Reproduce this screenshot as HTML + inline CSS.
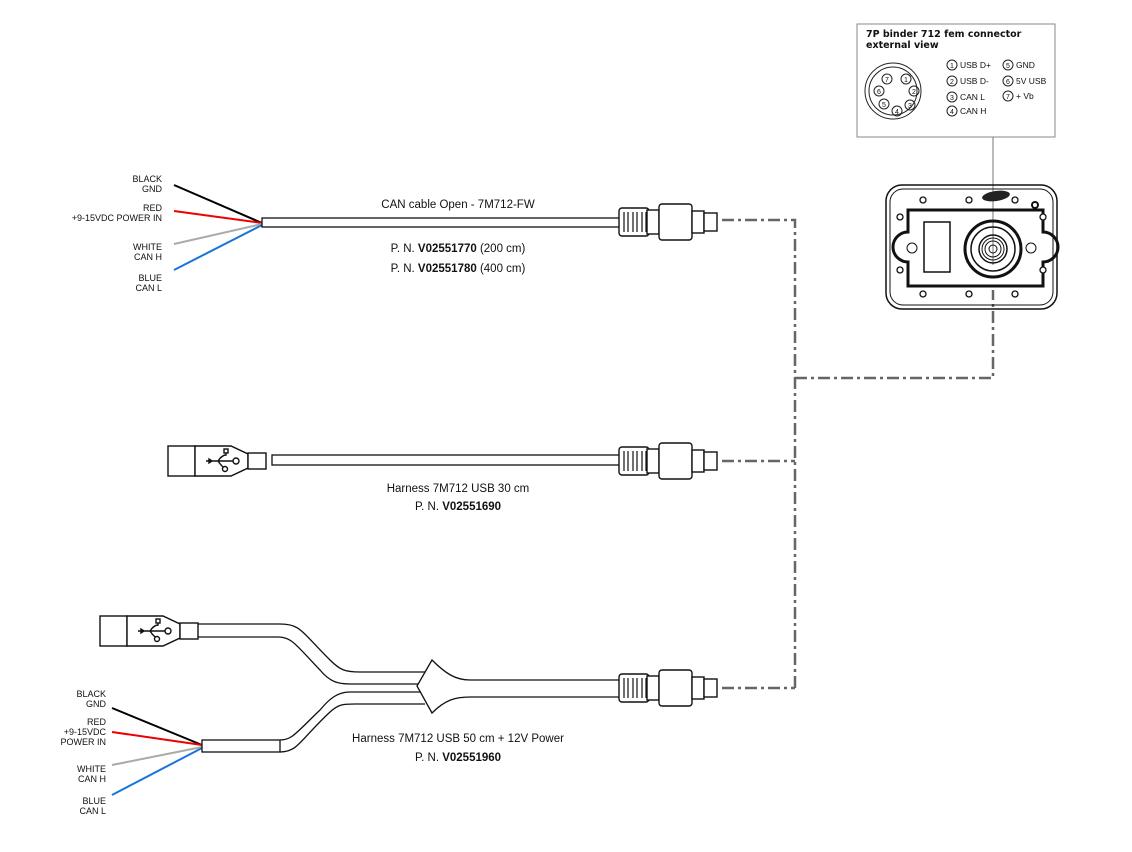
<!DOCTYPE html><html><head><style>body{margin:0;background:#fff}svg{display:block}text{font-family:"Liberation Sans",sans-serif;fill:#111}</style></head><body>
<svg width="1132" height="852" viewBox="0 0 1132 852" xmlns="http://www.w3.org/2000/svg">
<defs>
<g id="conn" fill="#fff" stroke="#111" stroke-width="1.4">
<rect x="0" y="-14" width="30" height="28" rx="3"/>
<path d="M5,-10v20M9,-10v20M14,-10v20M18,-10v20M23,-10v20M27,-10v20" stroke-width="1.2"/>
<rect x="28" y="-12" width="12" height="24"/>
<rect x="40" y="-18" width="33" height="36" rx="3"/>
<rect x="73" y="-11" width="12" height="22"/>
<rect x="85" y="-9" width="13" height="18"/>
</g>
<g id="usb" fill="#fff" stroke="#111" stroke-width="1.4">
<rect x="0" y="-15" width="27" height="30"/>
<path d="M27,-15h36l17,8v14l-17,8h-36z"/>
<rect x="80" y="-8" width="18" height="16"/>
<path d="M38,0h28M44,0l-3,-2v4zM50,0q4,-6 8,-6v-4M50,0q4,6 8,8" fill="none"/>
<rect x="56" y="-12" width="4" height="4"/><circle cx="57" cy="8" r="2.5"/><circle cx="68" cy="0" r="3"/>
</g>
</defs>
<g fill="none" stroke="#666" stroke-width="2.5" stroke-dasharray="12,4,3,4">
<path d="M722,220H795V688M722,461H795M722,688H795M795,378H993V290"/>
</g>
<line x1="993" y1="137" x2="993" y2="265" stroke="#777" stroke-width="1"/>
<!-- info box -->
<rect x="857" y="24" width="198" height="113" fill="#fff" stroke="#888" stroke-width="1"/>
<text x="866" y="37" font-size="9.5" font-weight="bold" style="font-family:'DejaVu Sans',sans-serif" fill="#333">7P binder 712 fem connector</text>
<text x="866" y="48" font-size="9.5" font-weight="bold" style="font-family:'DejaVu Sans',sans-serif" fill="#333">external view</text>
<g fill="none" stroke="#222" stroke-width="1">
<circle cx="893" cy="91" r="28"/><circle cx="893" cy="91" r="24"/>
<circle cx="906" cy="79" r="5"/><circle cx="914" cy="91" r="5"/><circle cx="910" cy="105" r="5"/><circle cx="897" cy="111" r="5"/><circle cx="884" cy="104" r="5"/><circle cx="879" cy="91" r="5"/><circle cx="887" cy="79" r="5"/>
<circle cx="952" cy="65" r="5"/><circle cx="952" cy="81" r="5"/><circle cx="952" cy="97" r="5"/><circle cx="952" cy="111" r="5"/>
<circle cx="1008" cy="65" r="5"/><circle cx="1008" cy="81" r="5"/><circle cx="1008" cy="96" r="5"/>
</g>
<g font-size="7" text-anchor="middle"><text x="906" y="82">1</text><text x="914" y="94">2</text><text x="910" y="108">3</text><text x="897" y="114">4</text><text x="884" y="107">5</text><text x="879" y="94">6</text><text x="887" y="82">7</text>
<text x="952" y="68">1</text><text x="952" y="84">2</text><text x="952" y="100">3</text><text x="952" y="114">4</text><text x="1008" y="68">5</text><text x="1008" y="84">6</text><text x="1008" y="99">7</text></g>
<g font-size="8.5"><text x="960" y="68">USB D+</text><text x="960" y="84">USB D-</text><text x="960" y="100">CAN L</text><text x="960" y="114">CAN H</text><text x="1016" y="68">GND</text><text x="1016" y="84">5V USB</text><text x="1016" y="99">+ Vb</text></g>
<!-- device -->
<g stroke="#111" fill="none">
<rect x="886" y="185" width="171" height="124" rx="16" stroke-width="1.5"/>
<rect x="890" y="189" width="163" height="116" rx="13" stroke-width="1"/>
<path d="M908,210H1043V232a14,14 0 0 1 0,30V286H908V262a14,14 0 0 1 0,-30Z" stroke-width="3"/>
<rect x="924" y="222" width="26" height="50" stroke-width="1.5"/>
<circle cx="993" cy="249" r="28" stroke-width="3"/><circle cx="993" cy="249" r="22" stroke-width="1.5"/>
<circle cx="993" cy="249" r="14" stroke-width="1.5"/><circle cx="993" cy="249" r="11"/><circle cx="993" cy="249" r="8"/><circle cx="993" cy="249" r="4"/>
<circle cx="912" cy="248" r="5"/><circle cx="1031" cy="248" r="5"/>
<circle cx="1035" cy="205" r="3" stroke-width="2"/>
</g>
<g fill="#fff" stroke="#111" stroke-width="1.3"><circle cx="923" cy="200" r="3"/><circle cx="969" cy="200" r="3"/><circle cx="1015" cy="200" r="3"/><circle cx="900" cy="217" r="3"/><circle cx="1043" cy="217" r="3"/><circle cx="900" cy="270" r="3"/><circle cx="1043" cy="270" r="3"/><circle cx="923" cy="294" r="3"/><circle cx="969" cy="294" r="3"/><circle cx="1015" cy="294" r="3"/></g>
<ellipse cx="996" cy="196" rx="14" ry="5" fill="#222" transform="rotate(-8 996 196)"/>
<!-- top cable -->
<g stroke-width="2"><line x1="174" y1="185" x2="262" y2="223" stroke="#000"/><line x1="174" y1="211" x2="262" y2="223" stroke="#e00"/><line x1="174" y1="244" x2="262" y2="224" stroke="#aaa"/><line x1="174" y1="270" x2="262" y2="225" stroke="#1a73d9"/></g>
<rect x="262" y="218" width="360" height="9" fill="#fff" stroke="#111" stroke-width="1.3"/>
<use href="#conn" x="619" y="222"/>
<g font-size="9" text-anchor="end"><text x="162" y="182">BLACK</text><text x="162" y="192">GND</text><text x="162" y="211">RED</text><text x="162" y="221">+9-15VDC POWER IN</text><text x="162" y="250">WHITE</text><text x="162" y="260">CAN H</text><text x="162" y="281">BLUE</text><text x="162" y="291">CAN L</text></g>
<g font-size="11.5" text-anchor="middle"><text x="458" y="208">CAN cable Open - 7M712-FW</text>
<text x="458" y="252">P. N. <tspan font-weight="bold">V02551770</tspan>  (200 cm)</text><text x="458" y="272">P. N. <tspan font-weight="bold">V02551780</tspan>  (400 cm)</text>
<text x="458" y="492">Harness 7M712 USB 30 cm</text><text x="458" y="510">P. N. <tspan font-weight="bold">V02551690</tspan></text>
<text x="458" y="742">Harness 7M712 USB 50 cm + 12V Power</text><text x="458" y="761">P. N. <tspan font-weight="bold">V02551960</tspan></text></g>
<!-- middle -->
<rect x="272" y="455" width="350" height="10" fill="#fff" stroke="#111" stroke-width="1.3"/>
<use href="#usb" x="168" y="461"/>
<use href="#conn" x="619" y="461"/>
<!-- bottom -->
<g fill="none" stroke="#111" stroke-width="1.3">
<path d="M188,624H280C300,624 300,630 330,660C340,670 345,672 360,672H425"/>
<path d="M188,637H278C292,637 296,645 320,670C330,682 338,684 350,684H420"/>
<path d="M280,740C292,740 296,733 320,710C330,698 338,692 350,692H420"/>
<path d="M280,752C298,752 300,740 330,712C340,703 345,704 360,704H425"/>
<path d="M432,660L417,686L432,713C445,700 455,697 470,697H622V680H470C455,680 445,673 432,660Z" fill="#fff"/>
</g>
<use href="#usb" x="100" y="631"/>
<g stroke-width="2"><line x1="112" y1="708" x2="202" y2="745" stroke="#000"/><line x1="112" y1="732" x2="202" y2="745" stroke="#e00"/><line x1="112" y1="765" x2="202" y2="747" stroke="#aaa"/><line x1="112" y1="795" x2="202" y2="748" stroke="#1a73d9"/></g>
<rect x="202" y="740" width="78" height="12" fill="#fff" stroke="#111" stroke-width="1.3"/>
<use href="#conn" x="619" y="688"/>
<g font-size="9" text-anchor="end"><text x="106" y="697">BLACK</text><text x="106" y="707">GND</text><text x="106" y="725">RED</text><text x="106" y="735">+9-15VDC</text><text x="106" y="745">POWER IN</text><text x="106" y="772">WHITE</text><text x="106" y="782">CAN H</text><text x="106" y="804">BLUE</text><text x="106" y="814">CAN L</text></g>
</svg></body></html>
